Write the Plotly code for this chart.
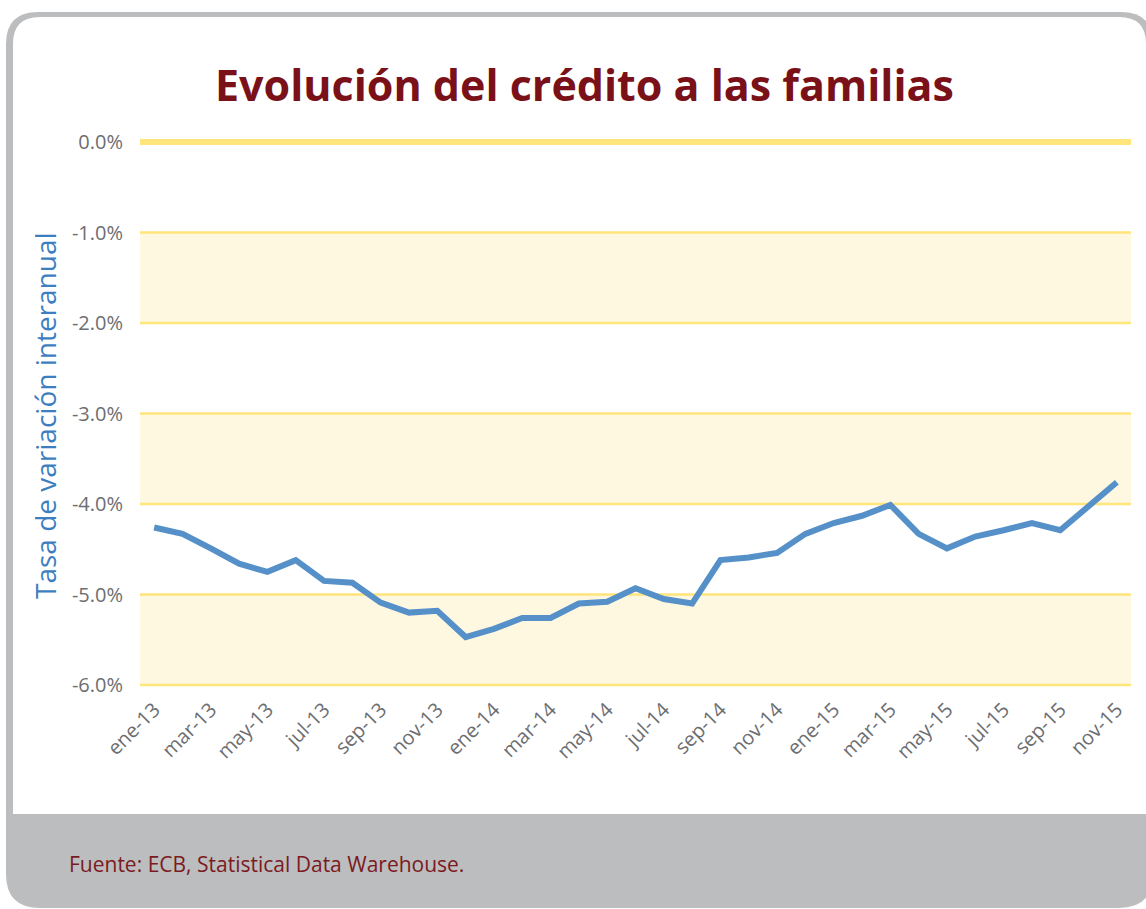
import plotly.graph_objects as go

# ---- data ----
months = ["ene", "feb", "mar", "abr", "may", "jun", "jul", "ago", "sep", "oct", "nov", "dic"]
years = ["13", "14", "15"]
categories = [f"{m}-{y}" for y in years for m in months][:35]
values = [-4.26, -4.33, -4.49, -4.66, -4.75, -4.62, -4.85, -4.87, -5.09, -5.20,
          -5.18, -5.47, -5.38, -5.26, -5.26, -5.10, -5.08, -4.93, -5.05, -5.10,
          -4.62, -4.59, -4.54, -4.33, -4.21, -4.13, -4.01, -4.33, -4.49, -4.36,
          -4.29, -4.21, -4.29, -4.03, -3.76]
y_tickvals = [0, -1, -2, -3, -4, -5, -6]
y_ticktext = ["0.0%", "-1.0%", "-2.0%", "-3.0%", "-4.0%", "-5.0%", "-6.0%"]
band_ranges = [(-1, -2), (-3, -4), (-5, -6)]
title_text = "Evolución del crédito a las familias"
ytitle_text = "Tasa de variación interanual"
source_text = "Fuente: ECB, Statistical Data Warehouse."

# ---- layout geometry (pixels) ----
W, H = 1146, 909
L, R, T, B = 140, 15, 142, 224
PW, PH = W - L - R, H - T - B
Y_MIN, Y_MAX = -6, 0


def px(x):
    return (x - L) / PW


def py(y):
    return (H - B - y) / PH


def vy(v):
    # data value -> paper y
    return (v - Y_MIN) / (Y_MAX - Y_MIN)


def rounded_path(x0, y0, x1, y1, r_top, r_bot):
    pts = []
    pts.append(("M", [(x0 + r_top, y0)]))
    pts.append(("L", [(x1 - r_top, y0)]))
    pts.append(("Q", [(x1, y0), (x1, y0 + r_top)]))
    pts.append(("L", [(x1, y1 - r_bot)]))
    if r_bot:
        pts.append(("Q", [(x1, y1), (x1 - r_bot, y1)]))
    pts.append(("L", [(x0 + r_bot, y1)]))
    if r_bot:
        pts.append(("Q", [(x0, y1), (x0, y1 - r_bot)]))
    pts.append(("L", [(x0, y0 + r_top)]))
    pts.append(("Q", [(x0, y0), (x0 + r_top, y0)]))
    s = ""
    for cmd, pp in pts:
        s += cmd + " ".join(f"{px(a):.5f},{py(b):.5f}" for a, b in pp) + " "
    return s + "Z"


fig = go.Figure()
fig.add_trace(go.Scatter(
    x=categories, y=values, mode="lines",
    line=dict(color="#5590C8", width=6),
    hoverinfo="skip", showlegend=False,
))

shapes = []
# outer gray frame
shapes.append(dict(type="path", xref="paper", yref="paper", layer="below",
                   path=rounded_path(6, 12, 1153, 908, 32, 34),
                   fillcolor="#BCBDBF", line=dict(width=0)))
# inner white panel
shapes.append(dict(type="path", xref="paper", yref="paper", layer="below",
                   path=rounded_path(13, 17, 1146, 814, 27, 0),
                   fillcolor="#FFFFFF", line=dict(width=0)))
# cream bands
for a, b in band_ranges:
    shapes.append(dict(type="rect", xref="paper", yref="paper", layer="below",
                       x0=0, x1=1, y0=vy(a), y1=vy(b), fillcolor="#FFF8E1",
                       line=dict(width=0)))
# grid lines
for v in y_tickvals:
    shapes.append(dict(type="line", xref="paper", yref="paper", layer="below",
                       x0=0, x1=1, y0=vy(v), y1=vy(v),
                       line=dict(color="#FFE57A", width=6 if v == 0 else 2.5)))

fig.update_layout(
    width=W, height=H,
    margin=dict(l=L, r=R, t=T, b=B),
    paper_bgcolor="white", plot_bgcolor="rgba(0,0,0,0)",
    shapes=shapes,
    xaxis=dict(
        type="category", categoryorder="array", categoryarray=categories,
        range=[-0.5, len(categories) - 0.5],
        tickvals=categories[::2], ticktext=categories[::2],
        tickangle=-45, showgrid=False, zeroline=False, showline=False,
        ticks="", ticklabelstandoff=8,
        tickfont=dict(family="Open Sans", size=20, color="#6D6E71"),
        fixedrange=True,
    ),
    yaxis=dict(
        range=[Y_MIN, Y_MAX], tickvals=y_tickvals, ticktext=y_ticktext,
        showgrid=False, zeroline=False, showline=False, ticks="",
        ticklabelstandoff=16,
        tickfont=dict(family="Open Sans", size=20, color="#6D6E71"),
        fixedrange=True,
    ),
    annotations=[
        dict(text=f"<b>{title_text}</b>", xref="paper", yref="paper",
             x=px(584), y=py(85), xanchor="center", yanchor="middle",
             showarrow=False,
             font=dict(family="Open Sans", size=43, color="#7A1119")),
        dict(text=ytitle_text, xref="paper", yref="paper",
             x=px(45), y=py(416), xanchor="center", yanchor="middle",
             textangle=-90, showarrow=False,
             font=dict(family="Open Sans", size=28, color="#3D7EC1")),
        dict(text=source_text, xref="paper", yref="paper",
             x=px(67), y=py(864), xanchor="left", yanchor="middle",
             showarrow=False,
             font=dict(family="Open Sans", size=21, color="#7B1A21")),
    ],
)

fig.write_html("out.html", config={"displayModeBar": False},
               post_script="document.body.style.margin='0';document.body.style.overflow='hidden';")
